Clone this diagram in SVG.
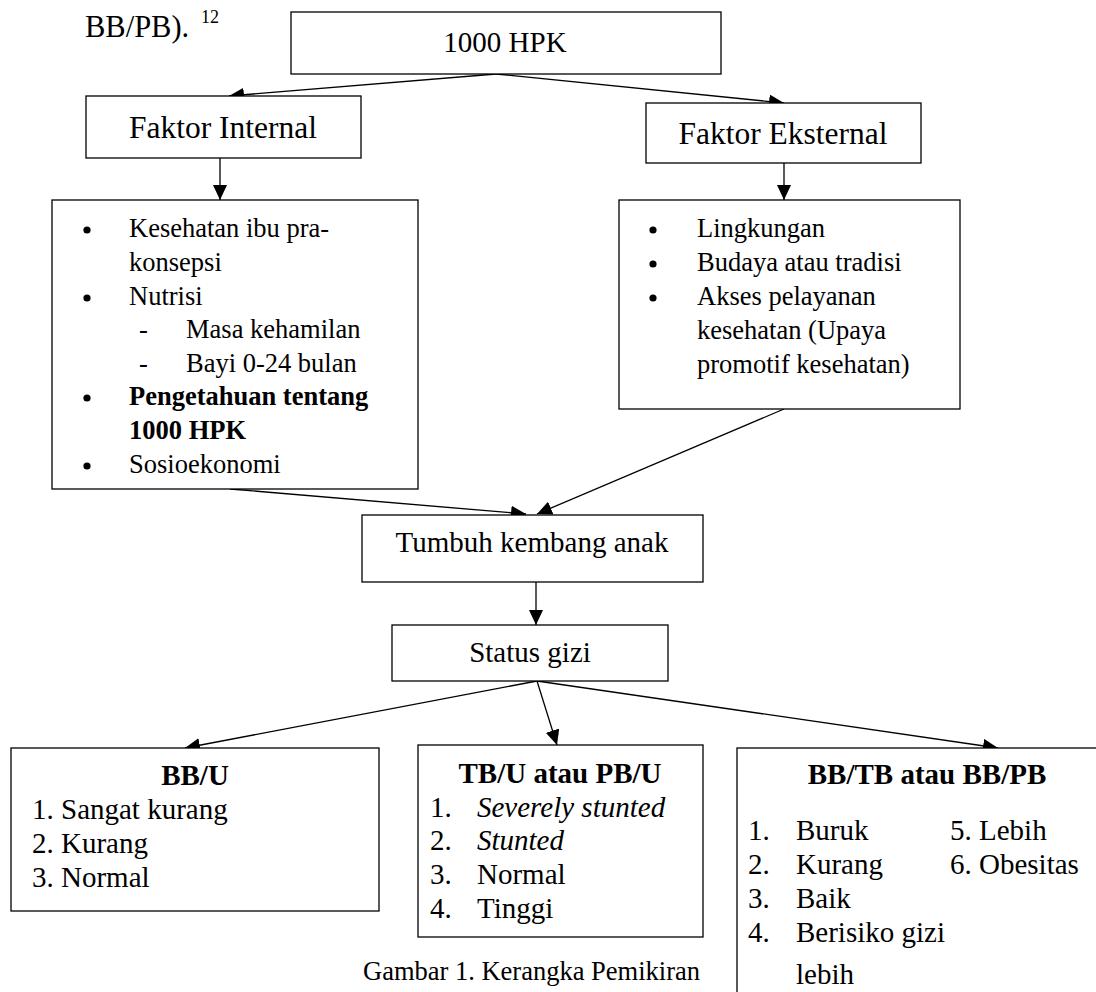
<svg xmlns="http://www.w3.org/2000/svg" width="1096" height="992" viewBox="0 0 1096 992">
<defs>
<marker id="ah" markerUnits="userSpaceOnUse" markerWidth="15" markerHeight="14" refX="15" refY="7" orient="auto">
<path d="M0,0 L15,7 L0,14 z" fill="#000"/>
</marker>
<style>
.box{fill:#fff;stroke:#000;stroke-width:1.3}
.t{font-family:"Liberation Serif","Times New Roman",serif;fill:#000}
.h29{font-size:29px}
.h32{font-size:31.5px}
.l26{font-size:26.5px}
.b{font-weight:bold}
.i{font-style:italic}
.c{text-anchor:middle}
.con{stroke:#000;stroke-width:1.3;fill:none;marker-end:url(#ah)}
</style>
</defs>
<rect width="1096" height="992" fill="#fff"/>
<text class="t" font-size="30.5" x="85" y="37">BB/PB). <tspan font-size="18" dx="4" dy="-14">12</tspan></text>

<g id="connectors">
<line class="con" x1="496" y1="74" x2="229" y2="96"/>
<line class="con" x1="496" y1="74" x2="784" y2="103"/>
<line class="con" x1="220" y1="158" x2="220" y2="200"/>
<line class="con" x1="784" y1="163" x2="784" y2="200"/>
<line class="con" x1="230" y1="489" x2="526" y2="514"/>
<line class="con" x1="784" y1="409" x2="537" y2="514"/>
<line class="con" x1="536" y1="582" x2="536" y2="625"/>
<line class="con" x1="537" y1="681" x2="185" y2="748"/>
<line class="con" x1="537" y1="681" x2="557" y2="745"/>
<line class="con" x1="537" y1="681" x2="998" y2="748"/>
</g>

<g id="n1000hpk">
<rect class="box" x="291" y="12" width="430" height="62"/>
<text class="t h29 c" x="505" y="52">1000 HPK</text>
</g>
<g id="faktor-internal">
<rect class="box" x="86" y="96" width="275" height="62"/>
<text class="t h32 c" x="223" y="138">Faktor Internal</text>
</g>
<g id="faktor-eksternal">
<rect class="box" x="646" y="103" width="275" height="60"/>
<text class="t h32 c" x="783" y="144">Faktor Eksternal</text>
</g>
<g id="internal-list">
<rect class="box" x="52" y="200" width="366" height="289"/>
<g fill="#000">
<circle cx="87" cy="230" r="3.6"/>
<circle cx="87" cy="298" r="3.6"/>
<circle cx="87" cy="398" r="3.6"/>
<circle cx="87" cy="466" r="3.6"/>
</g>
<text class="t l26" x="129" y="237">Kesehatan ibu pra-</text>
<text class="t l26" x="129" y="271">konsepsi</text>
<text class="t l26" x="129" y="305">Nutrisi</text>
<text class="t l26" x="139" y="338">-</text>
<text class="t l26" x="186" y="338">Masa kehamilan</text>
<text class="t l26" x="139" y="372">-</text>
<text class="t l26" x="186" y="372">Bayi 0-24 bulan</text>
<text class="t l26 b" x="129" y="405">Pengetahuan tentang</text>
<text class="t l26 b" x="129" y="439">1000 HPK</text>
<text class="t l26" x="129" y="473">Sosioekonomi</text>
</g>
<g id="eksternal-list">
<rect class="box" x="619" y="200" width="341" height="209"/>
<g fill="#000">
<circle cx="653" cy="230" r="3.6"/>
<circle cx="653" cy="264" r="3.6"/>
<circle cx="653" cy="298" r="3.6"/>
</g>
<text class="t l26" x="697" y="237">Lingkungan</text>
<text class="t l26" x="697" y="271">Budaya atau tradisi</text>
<text class="t l26" x="697" y="305">Akses pelayanan</text>
<text class="t l26" x="697" y="339">kesehatan (Upaya</text>
<text class="t l26" x="697" y="373">promotif kesehatan)</text>
</g>
<g id="tumbuh-kembang">
<rect class="box" x="362" y="515" width="341" height="67"/>
<text class="t h29 c" x="532" y="552">Tumbuh kembang anak</text>
</g>
<g id="status-gizi">
<rect class="box" x="392" y="625" width="276" height="56"/>
<text class="t h29 c" x="530" y="662">Status gizi</text>
</g>
<g id="bbu">
<rect class="box" x="11" y="748" width="368" height="163"/>
<text class="t h29 b c" x="195" y="785">BB/U</text>
<text class="t h29" x="32" y="819">1. Sangat kurang</text>
<text class="t h29" x="32" y="853">2. Kurang</text>
<text class="t h29" x="32" y="887">3. Normal</text>
</g>
<g id="tbu">
<rect class="box" x="418" y="745" width="285" height="192"/>
<text class="t h29 b c" x="560" y="783">TB/U atau PB/U</text>
<text class="t h29" x="430" y="817">1.</text>
<text class="t h29 i" x="477" y="817">Severely stunted</text>
<text class="t h29" x="430" y="850">2.</text>
<text class="t h29 i" x="477" y="850">Stunted</text>
<text class="t h29" x="430" y="884">3.</text>
<text class="t h29" x="477" y="884">Normal</text>
<text class="t h29" x="430" y="918">4.</text>
<text class="t h29" x="477" y="918">Tinggi</text>
</g>
<g id="bbtb">
<rect class="box" x="737" y="748" width="380" height="270"/>
<text class="t h29 b c" x="927" y="784">BB/TB atau BB/PB</text>
<text class="t h29" x="748" y="840">1.</text>
<text class="t h29" x="796" y="840">Buruk</text>
<text class="t h29" x="748" y="874">2.</text>
<text class="t h29" x="796" y="874">Kurang</text>
<text class="t h29" x="748" y="908">3.</text>
<text class="t h29" x="796" y="908">Baik</text>
<text class="t h29" x="748" y="942">4.</text>
<text class="t h29" x="796" y="942">Berisiko gizi</text>
<text class="t h29" x="796" y="984">lebih</text>
<text class="t h29" x="950" y="840">5. Lebih</text>
<text class="t h29" x="950" y="874">6. Obesitas</text>
</g>
<text class="t l26" x="363" y="980">Gambar 1. Kerangka Pemikiran</text>
</svg>
